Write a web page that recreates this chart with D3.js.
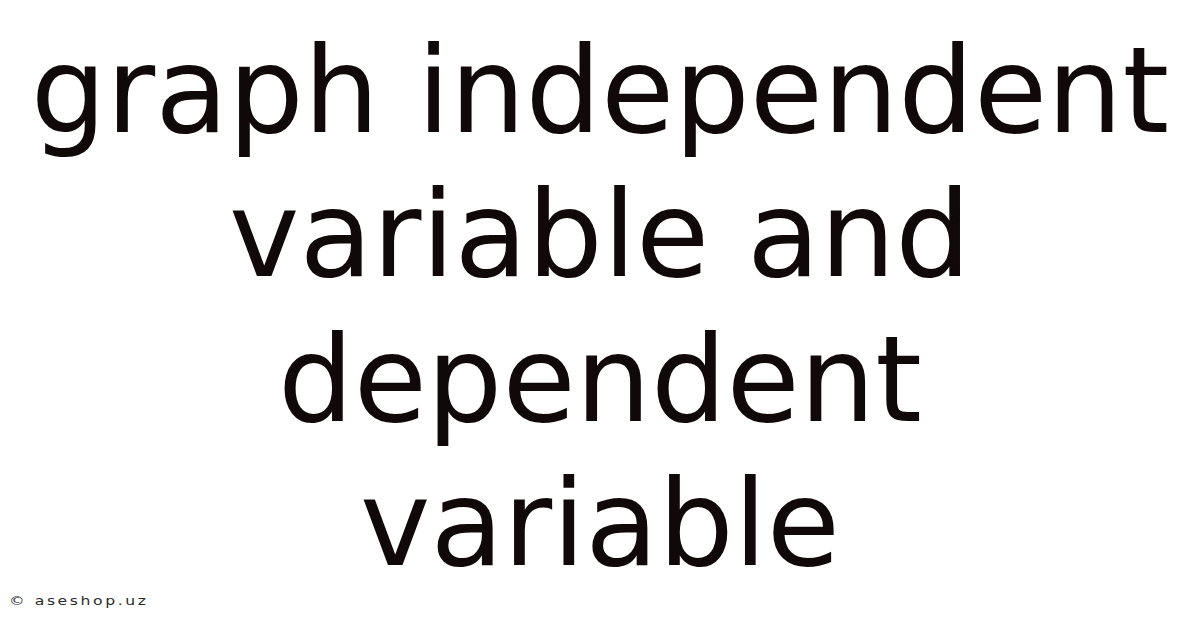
<!DOCTYPE html>
<html lang="en">
<head>
    <meta charset="utf-8">
    <title>graph independent variable and dependent variable</title>
    <script type="text/javascript" src="https://d3js.org/d3.v7.min.js"></script>
    <style type="text/css">
        html, body {
            margin: 0;
            padding: 0;
            background: #ffffff;
        }

        .title-line {
            font-family: "DejaVu Sans", sans-serif;
            font-size: 119px;
            fill: #110909;
            text-anchor: middle;
        }

        .credit {
            font-family: "DejaVu Sans", sans-serif;
            font-size: 12px;
            letter-spacing: 2px;
            fill: #2a2a2a;
        }
    </style>
</head>
<body>
    <div id="chart"></div>

    <script type="text/javascript">

        //Width and height
        var w = 1200;
        var h = 628;

        //Title lines, top to bottom
        var titleLines = ["graph independent", "variable and", "dependent", "variable"];

        //Credit text in the bottom left corner
        var creditText = ["\u00a9 aseshop.uz"];

        var svg = d3.select("#chart")
            .append("svg")
            .attr("width", w)
            .attr("height", h);

        //Vertical placement of each line baseline
        var y = d3.scalePoint()
            .domain(d3.range(titleLines.length))
            .range([132, 565]);

        svg.selectAll("text.title-line")
            .data(titleLines)
            .enter()
            .append("text")
            .attr("class", "title-line")
            .attr("x", w / 2)
            .attr("y", function (d, i) { return y(i); })
            .text(function (d) { return d; });

        //Credit is drawn a little stretched sideways, like the reference
        svg.selectAll("text.credit")
            .data(creditText)
            .enter()
            .append("text")
            .attr("class", "credit")
            .attr("transform", "translate(9,605) scale(1.3,1)")
            .text(function (d) { return d; });

    </script>
</body>
</html>
